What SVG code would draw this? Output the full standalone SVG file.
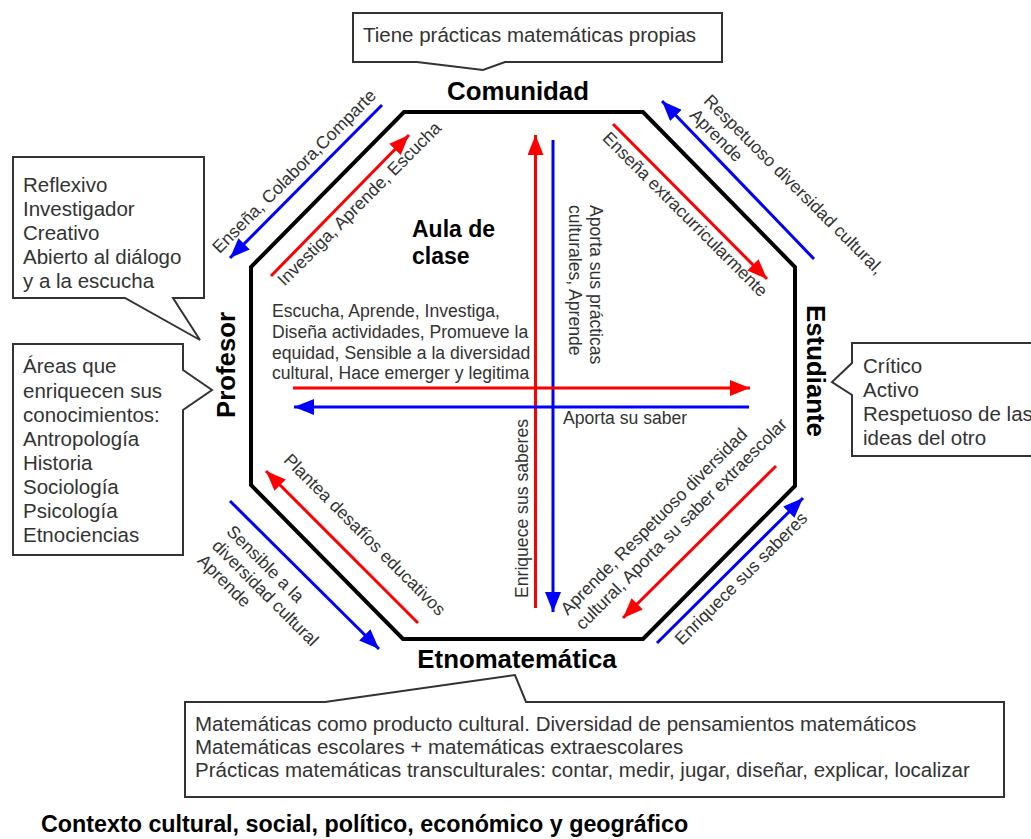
<svg xmlns="http://www.w3.org/2000/svg" width="1031" height="839" viewBox="0 0 1031 839">
<style>
.box{fill:#fff;stroke:#333;stroke-width:2;stroke-linejoin:miter}
.t{font-family:"Liberation Sans",Arial,sans-serif;fill:#333}
.c{font-size:20.5px}
.s{font-size:17.6px}
.b{font-family:"Liberation Sans",Arial,sans-serif;font-weight:bold;fill:#000}
.r{stroke:#ff0000;stroke-width:3;fill:none}
.bl{stroke:#0000ff;stroke-width:3;fill:none}
.ar{marker-end:url(#mr)}
.ab{marker-end:url(#mb)}
</style>
<defs>
<marker id="mr" markerUnits="userSpaceOnUse" markerWidth="20" markerHeight="16" refX="20" refY="8" orient="auto"><path d="M0,0 L20,8 L0,16 z" fill="#ff0000"/></marker>
<marker id="mb" markerUnits="userSpaceOnUse" markerWidth="20" markerHeight="16" refX="20" refY="8" orient="auto"><path d="M0,0 L20,8 L0,16 z" fill="#0000ff"/></marker>
</defs>
<rect width="1031" height="839" fill="#fff"/>

<g id="aula">
<path d="M404,112 L643,112 L795,267 L795,486 L643,639 L403,639 L251,485 L251,267 Z" fill="none" stroke="#000" stroke-width="4"/>
<text class="b" font-size="23" x="412" y="237">Aula de</text>
<text class="b" font-size="23" x="412" y="264">clase</text>
<text class="t s"><tspan x="272" y="317">Escucha, Aprende, Investiga,</tspan><tspan x="272" y="338">Diseña actividades, Promueve la</tspan><tspan x="272" y="358.5">equidad, Sensible a la diversidad</tspan><tspan x="272" y="379">cultural, Hace emerger y legitima</tspan></text>
</g>

<g id="node-comunidad">
<text class="b" font-size="25.8" x="518" y="100" text-anchor="middle">Comunidad</text>
<path class="box" d="M353,13 H722 V62 H505 L483,70 L417,62 H353 Z"/>
<text class="t c" x="363" y="42">Tiene prácticas matemáticas propias</text>
</g>

<g id="node-profesor">
<text class="b" font-size="25.8" transform="rotate(-90)" x="-365" y="235" text-anchor="middle">Profesor</text>
<path class="box" d="M13,157 H204 V298 H173 L200,340 L125,298 H13 Z"/>
<text class="t c"><tspan x="23" y="192">Reflexivo</tspan><tspan x="23" y="216">Investigador</tspan><tspan x="23" y="240">Creativo</tspan><tspan x="23" y="264">Abierto al diálogo</tspan><tspan x="23" y="288">y a la escucha</tspan></text>
<path class="box" d="M13,344 H183 V370 L212,390 L183,410 V555 H13 Z"/>
<text class="t c"><tspan x="23" y="373">Áreas que</tspan><tspan x="23" y="397.5">enriquecen sus</tspan><tspan x="23" y="421.5">conocimientos:</tspan><tspan x="23" y="446">Antropología</tspan><tspan x="23" y="470">Historia</tspan><tspan x="23" y="494">Sociología</tspan><tspan x="23" y="518">Psicología</tspan><tspan x="23" y="542">Etnociencias</tspan></text>
</g>

<g id="node-estudiante">
<text class="b" font-size="25.8" transform="rotate(90)" x="371" y="-807" text-anchor="middle">Estudiante</text>
<path class="box" d="M852,343 H1040 V456 H852 V395 L832,382 L852,363 Z"/>
<text class="t c"><tspan x="863" y="373">Crítico</tspan><tspan x="863" y="397">Activo</tspan><tspan x="863" y="421">Respetuoso de las</tspan><tspan x="863" y="445">ideas del otro</tspan></text>
</g>

<g id="node-etnomatematica">
<text class="b" font-size="25.8" x="517" y="668" text-anchor="middle">Etnomatemática</text>
<path class="box" d="M185,702 H325 L515,675 L526,702 H1004 V797 H185 Z"/>
<text class="t c"><tspan x="195" y="731">Matemáticas como producto cultural. Diversidad de pensamientos matemáticos</tspan><tspan x="195" y="754">Matemáticas escolares + matemáticas extraescolares</tspan><tspan x="195" y="777">Prácticas matemáticas transculturales: contar, medir, jugar, diseñar, explicar, localizar</tspan></text>
</g>

<g id="contexto">
<text class="b" font-size="23.3" x="41" y="832">Contexto cultural, social, político, económico y geográfico</text>
</g>

<g id="connectors">
<path class="bl ab" d="M382,105 L230,258"/>
<path class="r ar" d="M271,276 L409,135"/>
<path class="r ar" d="M535.5,608 L535.5,135"/>
<path class="bl ab" d="M553,140 L553,612"/>
<path class="r ar" d="M613,124 L767,279"/>
<path class="bl ab" d="M814,259 L662,101"/>
<path class="r ar" d="M293,388 L750,388"/>
<path class="bl ab" d="M749,407 L294,407"/>
<path class="r ar" d="M418,623 L266,471"/>
<path class="bl ab" d="M230,501 L379,649"/>
<path class="r ar" d="M776,466 L623,618"/>
<path class="bl ab" d="M657,643 L803,498"/>

<text class="t s" transform="rotate(-45)" x="87" y="335" text-anchor="middle">Enseña, Colabora,Comparte</text>
<text class="t s" transform="rotate(-45)" x="110" y="404" text-anchor="middle">Investiga, Aprende, Escucha</text>
<text class="t s" transform="rotate(45)" x="636" y="-327" text-anchor="middle">Enseña extracurricularmente</text>
<text class="t s" transform="rotate(45)"><tspan x="569" y="-425">Respetuoso diversidad cultural,</tspan><tspan x="569" y="-405">Aprende</tspan></text>
<text class="t s" transform="rotate(45)" x="636" y="126" text-anchor="middle">Plantea desafíos educativos</text>
<text class="t s" transform="rotate(45)"><tspan x="536" y="217">Sensible a la</tspan><tspan x="536" y="237.5">diversidad cultural</tspan><tspan x="536" y="258">Aprende</tspan></text>
<text class="t s" transform="rotate(-45)"><tspan x="-34" y="837">Aprende, Respetuoso diversidad</tspan><tspan x="-34" y="858">cultural, Aporta su saber extraescolar</tspan></text>
<text class="t s" transform="rotate(-45)" x="115" y="939" text-anchor="middle">Enriquece sus saberes</text>
<text class="t s" transform="rotate(90)"><tspan x="205" y="-590">Aporta sus prácticas</tspan><tspan x="205" y="-568.5">culturales, Aprende</tspan></text>
<text class="t s" transform="rotate(-90)" x="-598" y="528">Enriquece sus saberes</text>
<text class="t s" x="563" y="424">Aporta su saber</text>
</g>
</svg>
